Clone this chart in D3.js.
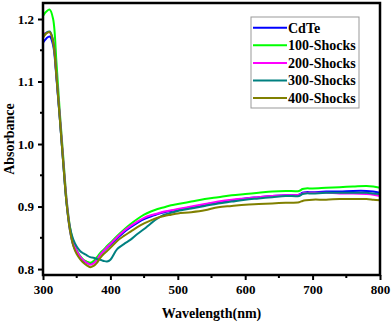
<!DOCTYPE html>
<html>
<head>
<meta charset="utf-8">
<script src="https://cdn.jsdelivr.net/npm/d3@7"></script>
<style>
  html, body { margin: 0; padding: 0; background: #fff; }
  svg { display: block; }
  text { font-family: "Liberation Serif", "Times New Roman", serif; font-weight: bold; fill: #000; }
</style>
</head>
<body>
<svg id="chart" width="392" height="324"></svg>
<script>
// Wavelength grid (nm)
const wavelength = [300, 305, 310, 315, 320, 325, 330, 335, 340, 345, 350, 355, 360, 365, 370, 375, 380, 385, 390, 395, 400, 410, 420, 430, 440, 450, 460, 470, 480, 490, 500, 520, 540, 560, 580, 600, 620, 640, 660, 680, 685, 690, 700, 720, 740, 760, 780, 790, 800];

// Absorbance spectra
const cdte = [1.162, 1.169, 1.172, 1.158, 1.105, 1.040, 0.970, 0.905, 0.862, 0.838, 0.826, 0.818, 0.813, 0.810, 0.808, 0.811, 0.817, 0.824, 0.829, 0.834, 0.839, 0.849, 0.859, 0.867, 0.874, 0.880, 0.884, 0.888, 0.891, 0.893, 0.895, 0.899, 0.903, 0.907, 0.910, 0.913, 0.915, 0.917, 0.918, 0.919, 0.922, 0.923, 0.923, 0.924, 0.924, 0.925, 0.925, 0.924, 0.922];
const shocks100 = [1.205, 1.212, 1.215, 1.200, 1.130, 1.050, 0.980, 0.912, 0.868, 0.843, 0.830, 0.821, 0.815, 0.812, 0.810, 0.813, 0.819, 0.826, 0.831, 0.837, 0.842, 0.853, 0.863, 0.872, 0.880, 0.887, 0.892, 0.896, 0.899, 0.902, 0.904, 0.908, 0.912, 0.915, 0.918, 0.920, 0.922, 0.924, 0.925, 0.925, 0.928, 0.929, 0.929, 0.930, 0.931, 0.932, 0.933, 0.932, 0.930];
const shocks200 = [1.175, 1.178, 1.179, 1.165, 1.110, 1.045, 0.975, 0.910, 0.866, 0.842, 0.829, 0.820, 0.814, 0.810, 0.807, 0.809, 0.815, 0.823, 0.829, 0.835, 0.840, 0.851, 0.861, 0.869, 0.876, 0.882, 0.886, 0.889, 0.892, 0.894, 0.896, 0.900, 0.904, 0.908, 0.911, 0.913, 0.915, 0.917, 0.918, 0.919, 0.921, 0.922, 0.922, 0.922, 0.921, 0.921, 0.920, 0.919, 0.917];
const shocks300 = [1.172, 1.178, 1.180, 1.165, 1.108, 1.040, 0.970, 0.905, 0.866, 0.847, 0.836, 0.829, 0.825, 0.822, 0.819, 0.818, 0.816, 0.815, 0.813, 0.812, 0.815, 0.832, 0.840, 0.847, 0.856, 0.864, 0.873, 0.881, 0.887, 0.890, 0.893, 0.897, 0.901, 0.905, 0.908, 0.911, 0.913, 0.915, 0.917, 0.917, 0.920, 0.921, 0.921, 0.922, 0.922, 0.922, 0.922, 0.921, 0.920];
const shocks400 = [1.170, 1.177, 1.179, 1.163, 1.108, 1.040, 0.970, 0.905, 0.862, 0.837, 0.824, 0.816, 0.810, 0.806, 0.803, 0.805, 0.810, 0.818, 0.824, 0.829, 0.834, 0.845, 0.853, 0.860, 0.867, 0.873, 0.878, 0.882, 0.885, 0.887, 0.889, 0.891, 0.894, 0.899, 0.901, 0.903, 0.904, 0.905, 0.906, 0.907, 0.909, 0.910, 0.911, 0.911, 0.912, 0.912, 0.912, 0.911, 0.910];

const seriesNames = ["CdTe", "100-Shocks", "200-Shocks", "300-Shocks", "400-Shocks"];
const seriesValues = [cdte, shocks100, shocks200, shocks300, shocks400];
const seriesColors = ["#0000ff", "#00ff00", "#ff00ff", "#008080", "#808000"];

const xTicks = [300, 400, 500, 600, 700, 800];
const yTicks = [0.8, 0.9, 1.0, 1.1, 1.2];

const svg = d3.select("#chart");
const margin = { left: 43, right: 12, top: 3, bottom: 49 };
const W = 392, H = 324;

const x = d3.scaleLinear().domain([300, 800]).range([margin.left, W - margin.right]);
const y = d3.scaleLinear().domain([0.7905, 1.2256]).range([H - margin.bottom, margin.top]);

// Spectra
const line = d3.line()
  .x(d => x(d[0]))
  .y(d => y(d[1]))
  .curve(d3.curveCatmullRom.alpha(0.5));

const plot = svg.append("g");
plot.append("clipPath").attr("id", "clip")
  .append("rect")
  .attr("x", x(300)).attr("y", y.range()[1])
  .attr("width", x(800) - x(300)).attr("height", y.range()[0] - y.range()[1]);

const lines = plot.append("g").attr("clip-path", "url(#clip)");
seriesValues.forEach((vals, i) => {
  lines.append("path")
    .datum(wavelength.map((w, j) => [w, vals[j]]))
    .attr("fill", "none")
    .attr("stroke", seriesColors[i])
    .attr("stroke-width", 2)
    .attr("stroke-linejoin", "round")
    .attr("d", line);
});

// Axes
const xAxis = d3.axisBottom(x).tickValues(xTicks).tickFormat(d3.format("d")).tickSize(5).tickPadding(5);
const yAxis = d3.axisLeft(y).tickValues(yTicks).tickFormat(d3.format(".1f")).tickSize(5).tickPadding(4);

const gx = svg.append("g").attr("transform", `translate(0,${y.range()[0]})`).call(xAxis);
const gy = svg.append("g").attr("transform", `translate(${x.range()[0]},0)`).call(yAxis);
[gx, gy].forEach(g => {
  g.select(".domain").remove();
  g.selectAll(".tick line").attr("stroke", "#000").attr("stroke-width", 2);
  g.selectAll(".tick text").style("font-size", "13px").style("font-family", "'Liberation Serif', serif").style("font-weight", "bold");
});

// Minor ticks
const xMinor = [350, 450, 550, 650, 750];
const yMinor = [0.85, 0.95, 1.05, 1.15];
svg.append("g").selectAll("line").data(xMinor).join("line")
  .attr("x1", d => x(d)).attr("x2", d => x(d))
  .attr("y1", y.range()[0]).attr("y2", y.range()[0] + 3)
  .attr("stroke", "#000").attr("stroke-width", 2);
svg.append("g").selectAll("line").data(yMinor).join("line")
  .attr("x1", x.range()[0] - 3).attr("x2", x.range()[0])
  .attr("y1", d => y(d)).attr("y2", d => y(d))
  .attr("stroke", "#000").attr("stroke-width", 2);

// Frame
svg.append("rect")
  .attr("x", x.range()[0]).attr("y", y.range()[1])
  .attr("width", x.range()[1] - x.range()[0])
  .attr("height", y.range()[0] - y.range()[1])
  .attr("fill", "none").attr("stroke", "#000").attr("stroke-width", 2.5);

// Axis titles
svg.append("text")
  .attr("x", (x.range()[0] + x.range()[1]) / 2)
  .attr("y", 318)
  .attr("text-anchor", "middle")
  .style("font-size", "14px")
  .text("Wavelength(nm)");

svg.append("text")
  .attr("transform", `translate(14,${(y.range()[0] + y.range()[1]) / 2}) rotate(-90)`)
  .attr("text-anchor", "middle")
  .style("font-size", "14px")
  .text("Absorbance");

// Legend
const legend = svg.append("g").attr("transform", "translate(251,17)");
legend.append("rect")
  .attr("width", 108).attr("height", 91)
  .attr("fill", "#fff").attr("stroke", "#999").attr("stroke-width", 1);
seriesNames.forEach((name, i) => {
  const cy = 10.7 + i * 17.6;
  legend.append("line")
    .attr("x1", 2).attr("x2", 36)
    .attr("y1", cy).attr("y2", cy)
    .attr("stroke", seriesColors[i]).attr("stroke-width", 2);
  legend.append("text")
    .attr("x", 37).attr("y", cy + 4.8)
    .style("font-size", "14px")
    .text(name);
});
</script>
</body>
</html>
